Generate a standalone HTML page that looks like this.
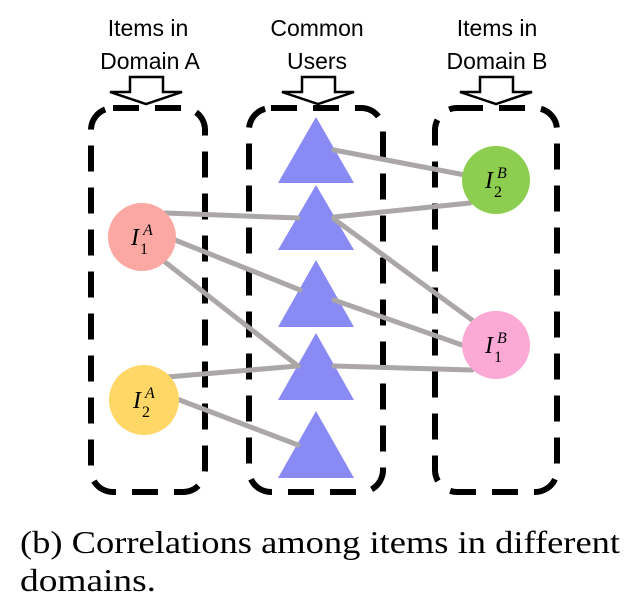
<!DOCTYPE html>
<html><head><style>
body{margin:0;background:#fff;width:643px;height:600px;overflow:hidden}
</style></head><body>
<svg width="643" height="600" xmlns="http://www.w3.org/2000/svg">
<g font-family="Liberation Sans, sans-serif" font-size="23" text-anchor="middle" fill="#000">
<text x="148" y="36">Items in</text><text x="150" y="69">Domain A</text>
<text x="317" y="36">Common</text><text x="317" y="69">Users</text>
<text x="497" y="36">Items in</text><text x="497" y="69">Domain B</text>
</g>
<g fill="#fff" stroke="#000" stroke-width="2.5" stroke-linejoin="miter">
<polygon points="130,77 163,77 163,92 182,92 146,104 110,92 130,92"/>
<polygon points="302,77 335,77 335,92 354,92 318,104 282,92 302,92"/>
<polygon points="480,77 513,77 513,92 532,92 496,104 460,92 480,92"/>
</g>
<g fill="none" stroke="#000" stroke-width="6" stroke-dasharray="26,16">
<rect x="91" y="108" width="114" height="384" rx="22"/>
<rect x="249" y="108" width="134" height="384" rx="22"/>
<rect x="435" y="108" width="122" height="384" rx="22"/>
</g>
<g fill="#8a8af5">
<polygon points="316,117 354,183 278,183"/>
<polygon points="316,185 354,250 278,250"/>
<polygon points="316,260 354,327 278,327"/>
<polygon points="316,333 354,400 278,400"/>
<polygon points="316,411 354,478 278,478"/>
</g>
<g stroke="#aaa7a6" stroke-width="5" stroke-linecap="round">
<line x1="334" y1="150" x2="465" y2="175"/>
<line x1="165" y1="213" x2="298" y2="218"/>
<line x1="334" y1="217" x2="470" y2="203"/>
<line x1="175" y1="240" x2="300" y2="290"/>
<line x1="334" y1="219" x2="472" y2="320"/>
<line x1="334" y1="300" x2="462" y2="345"/>
<line x1="165" y1="262" x2="298" y2="366"/>
<line x1="167" y1="377" x2="298" y2="366"/>
<line x1="334" y1="366" x2="472" y2="370"/>
<line x1="177" y1="399" x2="298" y2="445"/>
</g>
<circle cx="142" cy="237" r="34" fill="#fba8a2"/>
<circle cx="144" cy="400" r="35" fill="#fed766"/>
<circle cx="496" cy="180" r="34" fill="#8dcd4f"/>
<circle cx="496" cy="345" r="34" fill="#fca9d6"/>
<g font-family="Liberation Serif, serif" font-style="italic" fill="#000">
<text x="131" y="245" font-size="24">I</text><text x="143" y="235" font-size="16">A</text><text x="140" y="254" font-size="16" font-style="normal">1</text>
<text x="133" y="408" font-size="24">I</text><text x="145" y="398" font-size="16">A</text><text x="142" y="417" font-size="16" font-style="normal">2</text>
<text x="485" y="188" font-size="24">I</text><text x="497" y="178" font-size="16">B</text><text x="494" y="197" font-size="16" font-style="normal">2</text>
<text x="485" y="353" font-size="24">I</text><text x="497" y="343" font-size="16">B</text><text x="494" y="362" font-size="16" font-style="normal">1</text>
</g>
<g font-family="Liberation Serif, serif" font-size="32" fill="#000">
<text x="20" y="553" textLength="600" lengthAdjust="spacingAndGlyphs">(b)  Correlations among items in different</text>
<text x="20" y="591" textLength="136" lengthAdjust="spacingAndGlyphs">domains.</text>
</g>
</svg>
</body></html>
